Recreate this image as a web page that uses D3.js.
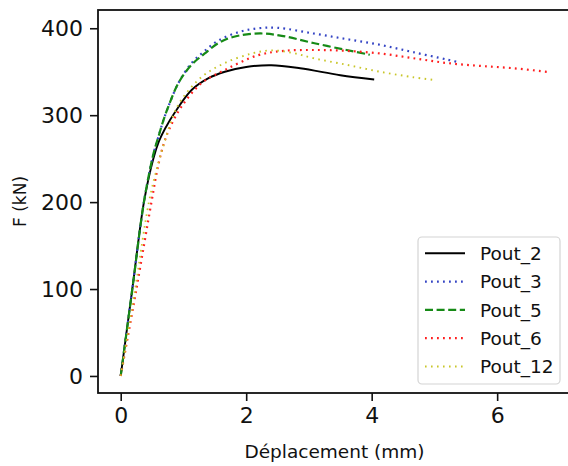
<!DOCTYPE html>
<html>
<head>
<meta charset="utf-8">
<script src="https://cdn.jsdelivr.net/npm/d3@7/dist/d3.min.js"></script>
<style>
  html, body { margin: 0; padding: 0; background: #fff; }
  svg { display: block; font-family: "DejaVu Sans", sans-serif; }
</style>
</head>
<body>
<svg id="chart" width="568" height="466"></svg>
<script>
// ---- Data ----
const seriesNames = ["Pout_2", "Pout_3", "Pout_5", "Pout_6", "Pout_12"];

const pout2X = [0, 0.185, 0.37, 0.52, 0.61, 0.71, 0.87, 1.13, 1.4, 1.66, 2.0, 2.4, 2.86, 3.5, 4.04];
const pout2F = [0, 100, 200, 250, 270, 285, 304, 329, 342.6, 350, 355.5, 357.5, 354, 346, 341];

const pout3X = [0, 0.185, 0.37, 0.52, 0.6, 0.68, 0.76, 0.92, 1.13, 1.34, 1.56, 1.9, 2.2, 2.5, 3.07, 3.6, 4.13, 4.66, 5.2, 5.35];
const pout3F = [0, 100, 200, 255, 275, 294, 310, 337, 360, 374, 386, 396, 400, 400.5, 394, 387.5, 381, 372.5, 364, 361.5];

const pout5X = [0, 0.185, 0.37, 0.52, 0.6, 0.68, 0.76, 0.92, 1.13, 1.34, 1.56, 1.79, 2.22, 2.59, 3.07, 3.6, 3.97];
const pout5F = [0, 100, 200, 255, 275, 294, 310, 337, 358, 371, 383, 390, 394, 391, 383, 375, 369.5];

const pout6X = [0, 0.25, 0.49, 0.6, 0.69, 0.78, 0.97, 1.29, 1.66, 2.19, 2.6, 3.1, 3.6, 4.13, 4.66, 5.2, 5.73, 6.26, 6.84];
const pout6F = [0, 100, 200, 243, 268, 285, 310, 337, 352, 369, 374, 375, 374, 371, 365.6, 360, 356.7, 354, 349.5];

const pout12X = [0, 0.23, 0.45, 0.6, 0.71, 0.84, 0.97, 1.29, 1.66, 2.09, 2.4, 2.75, 3.07, 3.6, 4.13, 4.66, 4.98];
const pout12F = [0, 100, 200, 245, 272, 300, 318, 344, 360, 371, 374.5, 371.5, 365.6, 358, 350, 343.7, 340.6];

const xTicks = [0, 2, 4, 6];
const yTicks = [0, 100, 200, 300, 400];
const xLabel = "Déplacement (mm)";
const yLabel = "F (kN)";

(function () {
// ---- Styles ----
const styles = [
  { color: "#000000", dash: null,      width: 1.9 },
  { color: "#3444c4", dash: "1.8,4.2", width: 2.2 },
  { color: "#168a16", dash: "8,3.6",   width: 2.2 },
  { color: "#ff1f1f", dash: "1.8,4.2", width: 2.2 },
  { color: "#c9c62a", dash: "1.6,4.4", width: 1.9 }
];

const seriesX = [pout2X, pout3X, pout5X, pout6X, pout12X];
const seriesF = [pout2F, pout3F, pout5F, pout6F, pout12F];
const series = seriesNames.map((name, i) => ({
  name,
  points: seriesX[i].map((xv, j) => ({ x: xv, f: seriesF[i][j] })),
  style: styles[i]
}));

const svg = d3.select("#chart");
const mL = 98, mR = 571, mT = 10, mB = 393;

const x = d3.scaleLinear().domain([-0.362, 7.177]).range([mL, mR]);
const y = d3.scaleLinear().domain([-19.6, 421]).range([mB, mT]);

// Lines
const line = d3.line().x(d => x(d.x)).y(d => y(d.f)).curve(d3.curveCatmullRom.alpha(0.5));
const plot = svg.append("g");
series.forEach(s => {
  plot.append("path")
    .datum(s.points)
    .attr("fill", "none")
    .attr("stroke", s.style.color)
    .attr("stroke-width", s.style.width)
    .attr("stroke-dasharray", s.style.dash)
    .attr("d", line);
});

// Axes
const xAxis = d3.axisBottom(x).tickValues(xTicks).tickFormat(d3.format("d")).tickSize(8).tickPadding(6);
const yAxis = d3.axisLeft(y).tickValues(yTicks).tickFormat(d3.format("d")).tickSize(8).tickPadding(7);

const gx = svg.append("g").attr("transform", `translate(0,${mB})`).call(xAxis);
const gy = svg.append("g").attr("transform", `translate(${mL},0)`).call(yAxis);
[gx, gy].forEach(g => {
  g.select(".domain").remove();
  g.selectAll(".tick line").attr("stroke", "#111").attr("stroke-width", 1.6);
  g.selectAll(".tick text").attr("fill", "#111").style("font-size", "22px").style("font-family", "DejaVu Sans");
});

// Spines
svg.append("rect")
  .attr("x", mL).attr("y", mT)
  .attr("width", mR - mL).attr("height", mB - mT)
  .attr("fill", "none").attr("stroke", "#111").attr("stroke-width", 1.8);

// Axis labels
svg.append("text")
  .attr("x", (mL + mR) / 2).attr("y", 458)
  .attr("text-anchor", "middle")
  .style("font-size", "18.5px").attr("fill", "#111")
  .text(xLabel);

svg.append("text")
  .attr("transform", `translate(26,${(mT + mB) / 2}) rotate(-90)`)
  .attr("text-anchor", "middle")
  .style("font-size", "17px").attr("fill", "#111")
  .text(yLabel);

// Legend
const lg = svg.append("g");
lg.append("rect")
  .attr("x", 418).attr("y", 237).attr("width", 142).attr("height", 147)
  .attr("rx", 4).attr("fill", "#fff").attr("fill-opacity", 0.85)
  .attr("stroke", "#d4d4d4").attr("stroke-width", 1.2);
series.forEach((s, i) => {
  const cy = 253.3 + i * 28.3;
  lg.append("line")
    .attr("x1", 425).attr("x2", 465).attr("y1", cy).attr("y2", cy)
    .attr("stroke", s.style.color).attr("stroke-width", s.style.width)
    .attr("stroke-dasharray", s.style.dash);
  lg.append("text")
    .attr("x", 480).attr("y", cy).attr("dy", "0.36em")
    .style("font-size", "18.5px").attr("fill", "#111")
    .text(s.name);
});
})();
</script>
</body>
</html>
